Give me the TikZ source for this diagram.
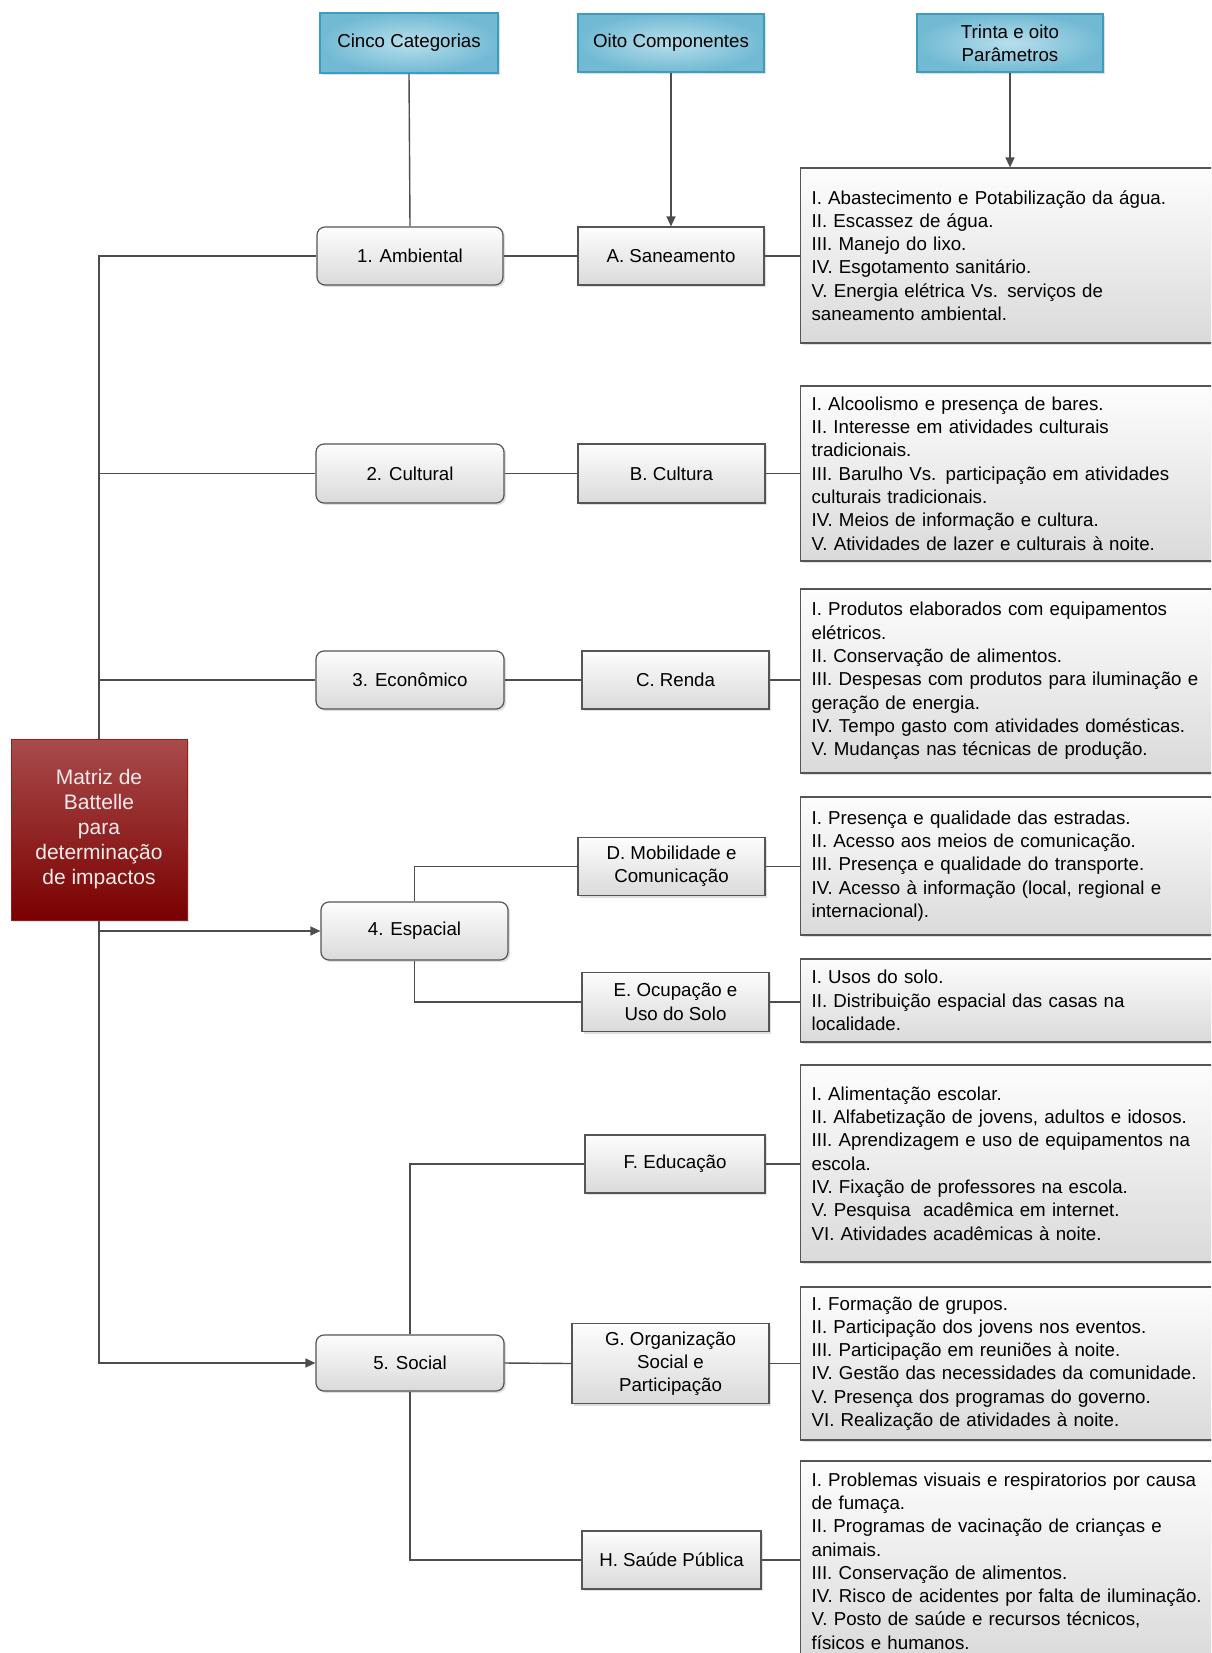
\documentclass[tikz,border=0pt]{standalone}
\usepackage{fontspec}
\setmainfont{Liberation Sans}
\usetikzlibrary{arrows.meta,shadows}
\definecolor{linec}{HTML}{4D4D4D}
\definecolor{gtop}{HTML}{FDFDFD}
\definecolor{gbot}{HTML}{DADADA}
\definecolor{gborder}{HTML}{555555}
\definecolor{hin}{HTML}{B8DFEC}
\definecolor{hout}{HTML}{72BAD4}
\definecolor{hborder}{HTML}{3D9DBE}
\definecolor{rtop}{HTML}{A94B4B}
\definecolor{rbot}{HTML}{7A0000}
\definecolor{rborder}{HTML}{8A2222}
\definecolor{rtext}{HTML}{F6ECEC}
\newcommand{\nfs}{\fontsize{18.7pt}{23.3pt}\selectfont}
\newcommand{\mfs}{\fontsize{21pt}{25pt}\selectfont}
\tikzset{
  ln/.style={draw=linec, line width=1.4pt},
  arr/.style={ln, -{Triangle[length=10pt,width=9pt]}},
  shad/.style={drop shadow={opacity=0.25, shadow xshift=2pt, shadow yshift=-2pt}},
  graybox/.style={draw=gborder, line width=1.2pt, top color=gtop, bottom color=gbot, shad,
    font=\nfs, align=center, inner sep=2pt, text=black},
  catbox/.style={graybox, rounded corners=8pt},
  compbox/.style={graybox},
  headbox/.style={draw=hborder, line width=1.3pt, inner color=hin, outer color=hout, shad,
    font=\nfs, align=center, inner sep=2pt, minimum height=58pt},
  mainbox/.style={draw=rborder, line width=1pt, top color=rtop, bottom color=rbot, shad,
    font=\mfs, align=center, text=rtext, inner sep=2pt, minimum width=176pt, minimum height=181pt},
  parbox/.style={graybox, anchor=west, align=left, text width=400pt, inner xsep=11pt, inner ysep=2pt}
}
\begin{document}
\begin{tikzpicture}[x=1pt,y=-1pt]
\path[use as bounding box] (0,0) rectangle (1211,1653);
\clip (0,0) rectangle (1211,1653);
\fill[white] (0,0) rectangle (1211,1653);

% headers
\node[headbox, minimum width=178pt, minimum height=60pt] (cinco) at (409,43) {Cinco Categorias};
\node[headbox, minimum width=186pt] (oito) at (671,43) {Oito Componentes};
\node[headbox, minimum width=186pt] (trinta) at (1010,43) {Trinta e oito\\Parâmetros};

% main
\node[mainbox] (main) at (99,829.5) {Matriz de\\Battelle\\para\\determinação\\de impactos};

% categories
\node[catbox, minimum width=186pt, minimum height=58pt] (amb) at (410,256) {1. Ambiental};
\node[catbox, minimum width=188pt, minimum height=59pt] (cul) at (410,473.5) {2. Cultural};
\node[catbox, minimum width=188pt, minimum height=58pt] (eco) at (410,680) {3. Econômico};
\node[catbox, minimum width=187pt, minimum height=58pt] (esp) at (414.5,931) {4. Espacial};
\node[catbox, minimum width=188pt, minimum height=56pt] (soc) at (410,1363) {5. Social};

% components
\node[compbox, minimum width=186pt, minimum height=58pt] (san) at (671,256) {A. Saneamento};
\node[compbox, minimum width=187pt, minimum height=59pt] (cult) at (671.5,473.5) {B. Cultura};
\node[compbox, minimum width=187pt, minimum height=58pt] (renda) at (675.5,680) {C. Renda};
\node[compbox, minimum width=187pt, minimum height=58pt] (mob) at (671.5,866.5) {D. Mobilidade e\\Comunicação};
\node[compbox, minimum width=187pt, minimum height=59pt] (ocu) at (675.5,1002) {E. Ocupação e\\Uso do Solo};
\node[compbox, minimum width=180pt, minimum height=58pt] (edu) at (675,1164) {F. Educação};
\node[compbox, minimum width=197pt, minimum height=80pt] (org) at (670.5,1363.5) {G. Organização\\Social e\\Participação};
\node[compbox, minimum width=179pt, minimum height=58pt] (sau) at (671.5,1560) {H. Saúde Pública};

% parameters
\node[parbox, minimum height=175pt] (p1) at (800,255.5) {I. Abastecimento e Potabilização da água.\\
II. Escassez de água.\\
III. Manejo do lixo.\\
IV. Esgotamento sanitário.\\
V. Energia elétrica Vs. serviços de\\
saneamento ambiental.};
\node[parbox, minimum height=175pt] (p2) at (800,473.5) {I. Alcoolismo e presença de bares.\\
II. Interesse em atividades culturais\\
tradicionais.\\
III. Barulho Vs. participação em atividades\\
culturais tradicionais.\\
IV. Meios de informação e cultura.\\
V. Atividades de lazer e culturais à noite.};
\node[parbox, minimum height=184pt] (p3) at (800,681) {I. Produtos elaborados com equipamentos\\
elétricos.\\
II. Conservação de alimentos.\\
III. Despesas com produtos para iluminação e\\
geração de energia.\\
IV. Tempo gasto com atividades domésticas.\\
V. Mudanças nas técnicas de produção.};
\node[parbox, minimum height=138pt] (p4) at (800,866) {I. Presença e qualidade das estradas.\\
II. Acesso aos meios de comunicação.\\
III. Presença e qualidade do transporte.\\
IV. Acesso à informação (local, regional e\\
internacional).};
\node[parbox, minimum height=83pt] (p5) at (800,1000.5) {I. Usos do solo.\\
II. Distribuição espacial das casas na\\
localidade.};
\node[parbox, minimum height=197pt] (p6) at (800,1163.5) {I. Alimentação escolar.\\
II. Alfabetização de jovens, adultos e idosos.\\
III. Aprendizagem e uso de equipamentos na\\
escola.\\
IV. Fixação de professores na escola.\\
V. Pesquisa\ \ acadêmica em internet.\\
VI. Atividades acadêmicas à noite.};
\node[parbox, minimum height=153pt] (p7) at (800,1363.5) {I. Formação de grupos.\\
II. Participação dos jovens nos eventos.\\
III. Participação em reuniões à noite.\\
IV. Gestão das necessidades da comunidade.\\
V. Presença dos programas do governo.\\
VI. Realização de atividades à noite.};
\node[parbox, minimum height=200pt] (p8) at (800,1561) {I. Problemas visuais e respiratorios por causa\\
de fumaça.\\
II. Programas de vacinação de crianças e\\
animais.\\
III. Conservação de alimentos.\\
IV. Risco de acidentes por falta de iluminação.\\
V. Posto de saúde e recursos técnicos,\\
físicos e humanos.};

% header connectors
\draw[ln] (cinco.south) -- (amb.north);
\draw[arr] (oito.south) -- (san.north);
\draw[arr] (trinta.south) -- (trinta.south |- p1.north);

% trunk
\draw[ln] (amb.west) -| (main.north);
\draw[ln] (cul.west) -- (cul.west -| main.north);
\draw[ln] (eco.west) -- (eco.west -| main.north);
\draw[arr] (main.south) |- (soc.west);
\draw[arr] (main.south |- esp.west) -- (esp.west);

% category to component
\draw[ln] (amb.east) -- (san.west);
\draw[ln] (cul.east) -- (cult.west);
\draw[ln] (eco.east) -- (renda.west);
\draw[ln] (esp.north) |- (mob.west);
\draw[ln] (esp.south) |- (ocu.west);
\draw[ln] (soc.north) |- (edu.west);
\draw[ln] (soc.east) -- (org.west);
\draw[ln] (soc.south) |- (sau.west);

% component to parameters
\draw[ln] (san.east) -- (san.east -| p1.west);
\draw[ln] (cult.east) -- (cult.east -| p2.west);
\draw[ln] (renda.east) -- (renda.east -| p3.west);
\draw[ln] (mob.east) -- (mob.east -| p4.west);
\draw[ln] (ocu.east) -- (ocu.east -| p5.west);
\draw[ln] (edu.east) -- (edu.east -| p6.west);
\draw[ln] (org.east) -- (org.east -| p7.west);
\draw[ln] (sau.east) -- (sau.east -| p8.west);
\end{tikzpicture}
\end{document}
